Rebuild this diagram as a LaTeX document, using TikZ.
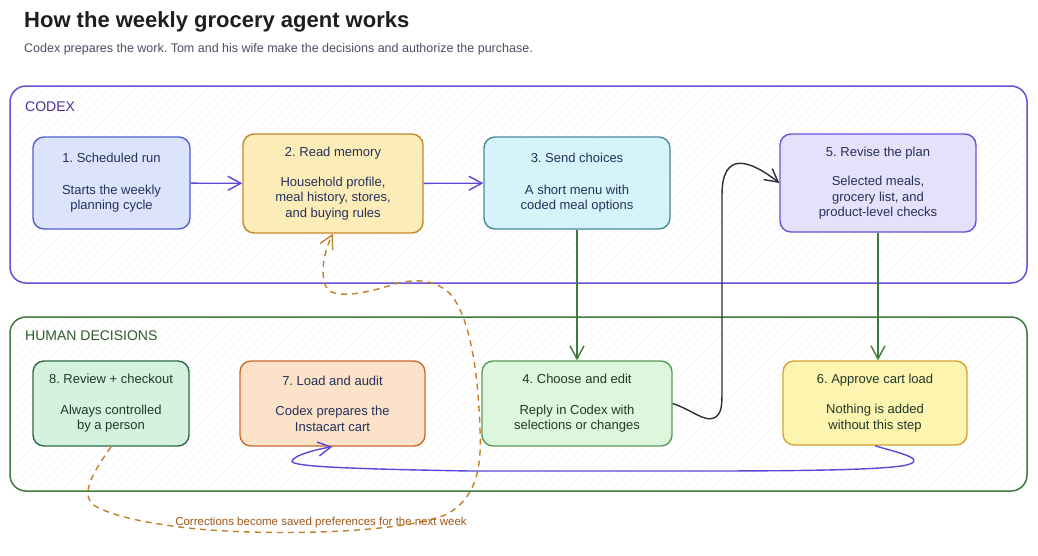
\documentclass[tikz,border=0pt]{standalone}
\usepackage{fontspec}
\setmainfont{Liberation Sans}
\usetikzlibrary{arrows.meta}
\frenchspacing
\definecolor{titlec}{HTML}{1E1E1E}
\definecolor{subc}{HTML}{4A5063}
\definecolor{codexc}{HTML}{6A50D8}
\definecolor{codexlab}{HTML}{4A2F9A}
\definecolor{humanc}{HTML}{3F7A3F}
\definecolor{humanlab}{HTML}{2F5A2F}
\definecolor{navytext}{HTML}{26305A}
\definecolor{greentext}{HTML}{203A28}
\definecolor{f1}{HTML}{DBE4FC}\definecolor{d1}{HTML}{4F5FD8}
\definecolor{f2}{HTML}{FBECB8}\definecolor{d2}{HTML}{C7862A}
\definecolor{f3}{HTML}{D4F4FA}\definecolor{d3}{HTML}{4A8A9A}
\definecolor{f5}{HTML}{E6E1FB}\definecolor{d5}{HTML}{6A50D8}
\definecolor{f8}{HTML}{D4F2DD}\definecolor{d8}{HTML}{2F6A45}
\definecolor{f7}{HTML}{FBE2C8}\definecolor{d7}{HTML}{CC6A2A}
\definecolor{f4}{HTML}{DCF7DC}\definecolor{d4}{HTML}{5A9A5A}
\definecolor{f6}{HTML}{FDF4B0}\definecolor{d6}{HTML}{D4A030}
\definecolor{purplearrow}{HTML}{5A48D8}
\definecolor{greenarrow}{HTML}{3D7A3D}
\definecolor{darkarrow}{HTML}{2A2E3A}
\definecolor{orangedash}{HTML}{C0802A}
\definecolor{orangelab}{HTML}{A0561A}
\begin{document}
\begin{tikzpicture}[x=1pt,y=-1pt,
  stepbox/.style={draw, line width=1.4pt, rounded corners=11pt, align=center,
    font=\fontsize{13}{15.5}\selectfont, inner sep=0pt},
  groupbox/.style={line width=1.5pt, rounded corners=16pt},
  hatch/.style={black!4, line width=0.5pt},
  tip/.style={-{Straight Barb[length=13pt,width=14pt]}, line width=1.4pt},
  grouplabel/.style={anchor=base west, font=\fontsize{14}{16}\selectfont, inner sep=0pt}]
\useasboundingbox (0,0) rectangle (1038,555);
\fill[white] (0,0) rectangle (1038,555);

% title
\node[anchor=base west, inner sep=0pt, text=titlec, font=\fontsize{22}{27}\bfseries] (title) at (24,27) {How the weekly grocery agent works};
\node[anchor=base west, inner sep=0pt, text=subc, font=\fontsize{12.5}{14}\selectfont] (subtitle) at (24,52) {Codex prepares the work. Tom and his wife make the decisions and authorize the purchase.};

% groups with hatching
\begin{scope}
\clip[rounded corners=16pt] (10,86) rectangle (1027,283);
\foreach \i in {0,9,...,1300} \draw[hatch] (\i-220,300) -- (\i,80);
\end{scope}
\draw[groupbox, draw=codexc] (10,86) rectangle (1027,283);
\begin{scope}
\clip[rounded corners=16pt] (10,317) rectangle (1027,491);
\foreach \i in {0,9,...,1300} \draw[hatch] (\i-200,500) -- (\i,300);
\end{scope}
\draw[groupbox, draw=humanc] (10,317) rectangle (1027,491);
\node[grouplabel, text=codexlab] (codexlabel) at (25,111) {CODEX};
\node[grouplabel, text=humanlab] (humanlabel) at (25,340) {HUMAN DECISIONS};

% steps
\node[stepbox, fill=f1, draw=d1, text=navytext, minimum width=157pt, minimum height=92pt] (n1) at (111.5,183)
  {1. Scheduled run\\[16pt]Starts the weekly\\planning cycle};
\node[stepbox, fill=f2, draw=d2, text=navytext, minimum width=180pt, minimum height=99pt] (n2) at (333,183.5)
  {2. Read memory\\[14pt]Household profile,\\meal history, stores,\\and buying rules};
\node[stepbox, fill=f3, draw=d3, text=navytext, minimum width=186pt, minimum height=92pt] (n3) at (577,183)
  {3. Send choices\\[16pt]A short menu with\\coded meal options};
\node[stepbox, fill=f5, draw=d5, text=navytext, minimum width=196pt, minimum height=98pt] (n5) at (878,183)
  {5. Revise the plan\\[14pt]Selected meals,\\grocery list, and\\product-level checks};
\node[stepbox, fill=f8, draw=d8, text=greentext, minimum width=156pt, minimum height=85pt] (n8) at (111,403.5)
  {8. Review + checkout\\[15pt]Always controlled\\by a person};
\node[stepbox, fill=f7, draw=d7, text=navytext, minimum width=185pt, minimum height=85pt] (n7) at (332.5,403.5)
  {7. Load and audit\\[15pt]Codex prepares the\\Instacart cart};
\node[stepbox, fill=f4, draw=d4, text=greentext, minimum width=190pt, minimum height=85pt] (n4) at (577,403.5)
  {4. Choose and edit\\[15pt]Reply in Codex with\\selections or changes};
\node[stepbox, fill=f6, draw=d6, text=greentext, minimum width=184pt, minimum height=84pt] (n6) at (875,403)
  {6. Approve cart load\\[15pt]Nothing is added\\without this step};

% connectors
\draw[tip, purplearrow] (n1) -- (n2);
\draw[tip, purplearrow] (n2) -- (n3);
\draw[tip, greenarrow] (n3) -- (n4);
\draw[tip, greenarrow] (n5.south) -- (n6.north -| n5.south);
\draw[tip, darkarrow] (n4.east) .. controls (692,410) and (704,422) .. (714,418)
  .. controls (722,414) and (722,405) .. (722,390)
  -- (722,195) .. controls (722,150) and (750,160) .. (n5.west);
\draw[tip, purplearrow] (n6.south) .. controls (895,452) and (925,458) .. (910,464)
  .. controls (895,470) and (800,471) .. (700,471) -- (470,471)
  .. controls (360,469) and (290,467) .. (292,461)
  .. controls (294,455) and (318,449) .. (n7.south);
\draw[tip, orangedash, dashed, dash pattern=on 6pt off 5pt, line width=1.4pt] (n8.south)
  .. controls (95,470) and (78,495) .. (95,506)
  .. controls (115,517) and (145,522) .. (172,526)
  .. controls (240,536) and (390,536) .. (445,515)
  .. controls (475,500) and (482,470) .. (480,430)
  .. controls (478,370) and (470,320) .. (452,296)
  .. controls (440,282) and (420,277) .. (395,284)
  .. controls (370,292) and (340,299) .. (328,290)
  .. controls (320,280) and (322,255) .. (n2.south);
\node[anchor=base, inner sep=0pt, text=orangelab, font=\fontsize{11.5}{13}\selectfont] (corrlabel) at (321,525)
  {Corrections become saved preferences for the next week};
\end{tikzpicture}
\end{document}
